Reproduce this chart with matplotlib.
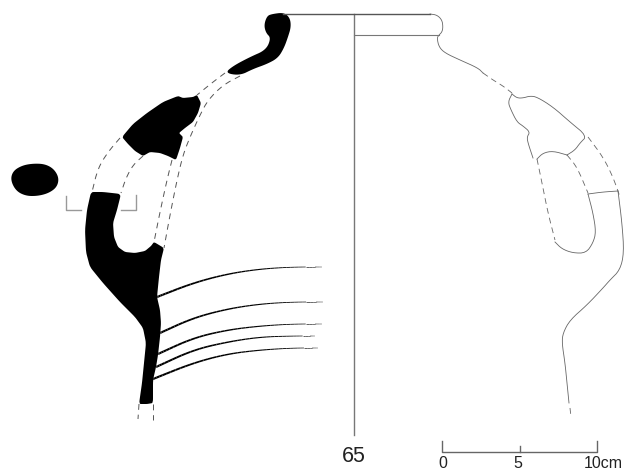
import matplotlib
matplotlib.use("Agg")
import matplotlib.pyplot as plt
from matplotlib.collections import LineCollection

plt.rcParams['font.family'] = ['Liberation Sans', 'DejaVu Sans']

# everything, in image pixels
W, H = 624, 471

rim_section = [(272, 14), (284, 12.5), (290, 18), (291, 27), (288, 37), (284, 48), (278, 58), (267, 64),
               (253, 69), (240, 75.5), (225, 73), (233, 66), (250, 57), (266, 50), (271, 38), (266, 33),
               (264, 25), (267, 16)]
shoulder_section = [(122, 137), (133, 124), (147, 113), (163, 102), (178, 96), (183, 98), (193, 97), (197, 95),
                    (201, 103), (198, 113), (193, 122), (185, 128), (179, 133), (183, 137), (180, 148),
                    (176, 160), (168, 156), (160, 153), (150, 152), (143, 156), (135, 151), (128, 144)]
handle_section = [(91, 192), (103, 192), (121, 194), (117, 210), (113, 223), (114, 237), (118, 247), (125, 252),
                  (135, 253), (145, 251), (151, 246), (154, 242), (164, 248), (161, 260), (159, 277), (157, 297),
                  (160, 310), (161, 323), (160, 337), (158, 355), (156, 367), (153, 380), (153, 403), (147, 404),
                  (139, 404), (142, 383), (144, 363), (146, 343), (143, 328), (135, 317), (120, 302), (103, 283),
                  (90, 267), (86, 252), (85, 230), (87, 210)]
knob_section = [(10.5, 180), (13, 171), (22, 165.5), (33, 163.5), (45, 164), (54, 169), (59, 178), (57, 187),
                (49, 193), (38, 196), (26, 196), (16, 191)]

dashes_left = [
    [(225, 73), (213, 82), (197, 95)],
    [(240, 76), (223, 85), (208, 100), (200, 115), (190, 137), (183, 155), (177, 180), (170, 215), (164, 248)],
    [(172, 160), (167, 180), (160, 212), (154, 242)],
    [(120, 138), (108, 152), (98, 168), (92, 192)],
    [(143, 156), (133, 165), (126, 178), (121, 193)],
    [(139, 404), (138, 419)],
    [(153, 404), (153, 420)],
]
coil_lines = [
    [(157, 297), (193, 283), (227, 274), (260, 269), (293, 267), (322, 267)],
    [(160, 333), (193, 318), (227, 309), (260, 304), (293, 302), (323, 302)],
    [(158, 354), (193, 338), (227, 330), (260, 326), (293, 324), (322, 324)],
    [(156, 367), (193, 350), (227, 342), (260, 337), (293, 336), (315, 336)],
    [(153, 379), (193, 363), (227, 354), (260, 350), (293, 348), (318, 348)],
]

right_solid = [
    [(430, 14), (437, 15), (442, 20), (443, 27), (442, 32), (439, 35), (437, 38), (439, 47), (445, 53),
     (460, 60), (478, 68), (483, 73)],
    [(512, 94), (517, 98), (523, 98), (530, 96), (537, 97), (553, 107), (570, 122), (587, 136), (580, 143),
     (575, 150), (567, 155)],
    [(512, 94), (508, 102), (511, 110), (517, 122), (523, 126), (530, 132), (527, 137), (528, 143), (533, 158)],
    [(537, 159), (543, 153), (553, 151), (567, 155)],
    [(555, 242), (562, 249), (573, 253), (586, 253), (593, 243), (596, 232), (593, 213), (588, 194)],
    [(588, 194), (603, 192), (618, 191)],
    [(618, 191), (622, 223), (624, 253), (620, 270), (610, 280), (603, 288), (587, 305), (570, 320), (563, 333),
     (562, 343), (565, 363), (567, 383), (569, 403)],
]
right_dashed = [
    [(483, 73), (493, 80), (503, 86), (512, 93)],
    [(537, 159), (542, 183), (548, 213), (555, 240)],
    [(567, 155), (577, 167), (588, 193)],
    [(588, 137), (603, 157), (613, 177), (620, 197)],
    [(570, 408), (571, 417)],
]

axis_x = 354
rim_top_y = 13.5
rim_low_y = 35
axis_end_y = 435
scale_ticks = [0, 5, 10]
scale_labels = ['0', '5', '10cm']


def smooth(pts, closed=False, rounds=2, cut=0.25):
    # corner cutting, only rounds off the hand read outline
    for _ in range(rounds):
        out = []
        n = len(pts)
        last = n if closed else n - 1
        if not closed:
            out.append(pts[0])
        for i in range(last):
            a, b = pts[i], pts[(i + 1) % n]
            out.append(((1 - cut) * a[0] + cut * b[0], (1 - cut) * a[1] + cut * b[1]))
            out.append((cut * a[0] + (1 - cut) * b[0], cut * a[1] + (1 - cut) * b[1]))
        if not closed:
            out.append(pts[-1])
        pts = out
    return pts


fig = plt.figure(figsize=(W / 100, H / 100), dpi=100)
ax = fig.add_axes([0, 0, 1, 1])
ax.set_xlim(0, W)
ax.set_ylim(H, 0)
ax.axis('off')

# the rim and the knob have no sharp break edges, the other two keep their corners
for shape, cut in [(rim_section, 0.25), (shoulder_section, 0.12), (handle_section, 0.12), (knob_section, 0.25)]:
    xy = smooth(shape, closed=True, rounds=3, cut=cut)
    ax.fill([p[0] for p in xy], [p[1] for p in xy], color='black', lw=0)

for line in dashes_left:
    xy = smooth(line)
    ax.plot([p[0] for p in xy], [p[1] for p in xy], color='#555555', lw=0.7, dashes=(6, 5))

for line in coil_lines:
    xy = smooth(line, rounds=3)
    segs = [[xy[i], xy[i + 1]] for i in range(len(xy) - 1)]
    widths = [1.4 * (1 - i / len(segs)) + 0.2 for i in range(len(segs))]
    ax.add_collection(LineCollection(segs, colors='black', linewidths=widths))

# brackets beside the handle
ax.plot([66, 66, 81], [196, 210, 210], color='#999999', lw=1.0)
ax.plot([121, 136, 136], [210, 210, 195], color='#999999', lw=1.0)

# right half, outline
for line in right_solid:
    xy = smooth(line)
    ax.plot([p[0] for p in xy], [p[1] for p in xy], color='#666666', lw=0.6)
for line in right_dashed:
    xy = smooth(line)
    ax.plot([p[0] for p in xy], [p[1] for p in xy], color='#666666', lw=0.6, dashes=(7, 5))

ax.plot([axis_x, axis_x], [rim_top_y, axis_end_y], color='#777777', lw=1.0)
ax.plot([283, 430], [rim_top_y, rim_top_y], color='#555555', lw=1.0)
ax.plot([axis_x, 439], [rim_low_y, rim_low_y], color='#777777', lw=0.8)

# scale bar
x0, x1, y_bar = 442, 597, 452
to_x = lambda v: x0 + (x1 - x0) * v / scale_ticks[-1]
ax.plot([x0, x0, x1, x1], [441, y_bar, y_bar, 441], color='#666666', lw=1.0)
ax.plot([to_x(5), to_x(5)], [446, y_bar], color='#666666', lw=1.0)
ax.text(443, 464, scale_labels[0], fontsize=11.5, ha='center', va='center', color='#222222')
ax.text(518, 464, scale_labels[1], fontsize=11.5, ha='center', va='center', color='#222222')
ax.text(603, 464, scale_labels[2], fontsize=11.5, ha='center', va='center', color='#222222')
ax.text(354, 456.5, '65', fontsize=15.5, ha='center', va='center', color='#222222')

fig.savefig('out.png', dpi=100, facecolor='white')
